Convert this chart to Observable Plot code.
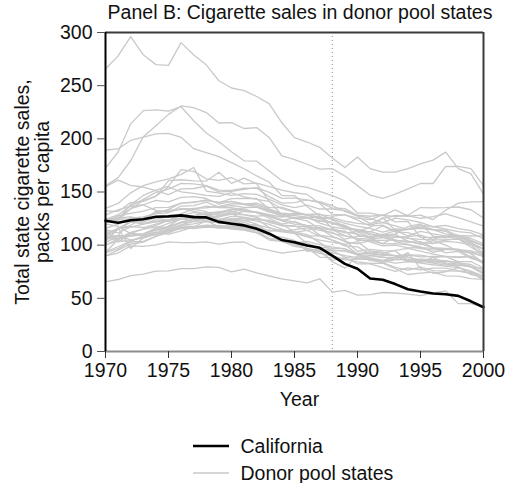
<!DOCTYPE html>
<html>
<head>
<meta charset="utf-8">
<script src="https://cdn.jsdelivr.net/npm/d3@7"></script>
<script src="https://cdn.jsdelivr.net/npm/@observablehq/plot@0.6"></script>
<style>
  body { margin: 0; background: #fff; }
  #wrap { width: 508px; font-family: "Liberation Sans", Arial, sans-serif; color: #111; }
  #title { height: 24px; line-height: 24px; font-size: 19.5px; text-align: center; padding-left: 92px; white-space: nowrap; }
  svg { display: block; }
</style>
</head>
<body>
<div id="wrap">
  <div id="title">Panel B: Cigarette sales in donor pool states</div>
  <div id="chart"></div>
  <div id="legend"></div>
</div>
<script>
// ---- data ----
const years = [1970,1971,1972,1973,1974,1975,1976,1977,1978,1979,1980,1981,1982,1983,1984,1985,1986,1987,1988,1989,1990,1991,1992,1993,1994,1995,1996,1997,1998,1999,2000];
const xTicks = [1970,1975,1980,1985,1990,1995,2000];
const yTicks = [0,50,100,150,200,250,300];
const treatmentYear = [1988];

const california = [123,121,123.5,124.4,126.7,127.1,128,126.4,126.1,121.9,120.2,118.6,115.4,110.8,104.8,102.8,99.7,97.5,90.1,82.4,77.8,68.7,67.5,63.4,58.6,56.4,54.5,53.8,52.3,47.2,41.6];

const alabama = [89.8,95.4,101.1,102.9,108.2,111.7,116.2,117.1,123,121.4,123.2,119.6,119.1,116.3,113,114.5,116.3,114,112.1,105.6,108.6,107.9,109.1,108.5,107.1,102.6,101.4,104.9,106.2,100.7,96.2];
const arkansas = [100.3,104.1,103.9,108,109.7,114.8,119.1,122.6,127.3,126.5,131.8,128.7,127.4,128,123.1,125.8,126,122.3,121.5,118.3,113.1,116.8,126,113.8,108.8,113,110.7,108.7,109.5,104.8,99.4];
const colorado = [124.8,125.5,134.3,137.9,132.8,131,134.2,132,129.2,131.5,131,133.8,130.5,125.3,119.7,112.4,109.9,102.4,94.6,88.8,87.4,90.2,88.3,88.6,89.1,85.4,83.1,81.3,81.2,79.6,73];
const connecticut = [120,117.6,110.8,109.3,112.4,110.2,113.4,117.3,117.5,117.4,118,116.4,114.7,114.1,112.5,111,108.5,109,104.8,100.6,91.5,86.7,83.5,79.1,76.6,79.3,76,75.9,75.5,73.4,71.4];
const delaware = [155,161.1,156.3,154.7,151.3,147.6,153,153.3,155.5,150.2,150.5,152.6,154.1,149.6,144,144.5,142.4,141,137.1,131.7,127.2,120.3,124.9,127.9,127.2,128.3,124.1,132.8,139.5,140.7,141];
const georgia = [109.9,115.7,117,119.8,123.7,122.9,125.9,127.9,130.6,131,134,131.7,131.2,128.6,126.3,128.8,129,129.3,124.1,117.1,113.8,109.6,109.8,110.1,103.6,101.1,104.3,100.1,94.3,93.6,89.2];
const idaho = [102.4,108.5,126.1,121.8,125.6,123.3,125.1,125,122.8,117.5,115.2,114.1,111.5,111.3,103.6,100.7,96.7,95,84.5,78.4,90.1,85.4,85.1,86.7,93,78.2,73.6,75,78.9,75.1,66.9];
const illinois = [124.8,125.6,126.6,124.4,131.9,131.8,134.4,134,136.7,135.3,135.2,133,130.7,127.9,124,121.6,118.2,109.5,107.6,104.6,94.1,96.1,94.8,94.6,85.7,83.9,88.5,82.3,79.8,72.2,70];
const indiana = [134.6,139.3,149.2,156,159.6,162.4,166.6,173,150.9,148.9,146.9,148.5,147.7,143,137.8,135.3,137.6,134,134,132.5,128.3,127.2,128.2,126.8,128.2,135.4,135.1,135.3,135.9,133.3,125.5];
const iowa = [108.5,108.4,109.4,110.6,116.1,120.5,124.4,125.5,127.1,124.2,124.6,123.2,119.8,110.6,104.7,103.5,101.5,98.2,97.2,96.5,91.4,92.6,91.3,90.2,90.8,88.9,89.4,89.4,89,89.2,82.8];
const kansas = [114,102.8,111,115.2,118.6,123.4,127.7,130.9,129,129.5,129.3,125,122.6,119.6,115.1,111.4,107.8,104.7,102.7,100.8,103.4,94.4,93.4,89.9,84.2,86.4,84.3,85.1,83.8,79.4,78.5];
const kentucky = [155.8,163.5,179.4,201.9,212.4,223,230.9,229.4,224.7,214.9,215.3,209.7,210.6,201.1,183.9,180.4,176.1,171.5,172,165,156,147,144,148,153,158,158,174,174,172,156];
const louisiana = [115.9,119.8,125.3,126.7,129.9,133.6,139.6,140,142.7,140.1,143.8,144,143.9,133.7,128.9,125,125.6,126.5,124.4,120.4,117.8,115.7,112.3,115.2,114.6,118.9,117.4,115.1,112.7,111.5,106.1];
const maine = [128.5,133.2,136.5,138,142.1,140.7,144.9,145.6,143.9,138.5,141.2,138.9,139.5,135.4,135.5,131.8,128.3,126.5,120.6,118.5,112.5,107.6,110.3,103.3,100.7,96.7,95.3,96.4,96.2,92,83.5];
const minnesota = [104.3,116.4,96.8,106.8,110.6,111.5,116.7,117.2,118.9,118.3,117.7,117.4,116.1,108.6,107.6,104.6,94.1,96.1,94.8,94.6,91.2,90.5,88.9,86.4,86.6,86.2,85.5,83.3,82.4,79.8,73.5];
const mississippi = [93.4,105.4,112.1,115,117.1,116.8,120.9,122.1,124.9,123.9,127,126.3,124.3,123.3,119.8,122.3,117.5,115.5,111.1,108.7,106.4,105.6,107.2,104.4,103.7,101.1,97.6,92.8,94.1,87.6,84.6];
const missouri = [121.3,127.6,130,132.1,135.4,135.6,139.5,140.8,141.8,140.2,141.2,138.1,138,134,130,129.2,128.8,128.7,127.4,128.6,123.6,118,118.8,113.1,114.8,116.9,114.7,114.1,108.6,103.9,99.5];
const montana = [111.2,115.6,122.2,119.9,121.9,123.7,124.9,127,127.2,120.3,122,121.7,116.9,110.6,103.5,101.5,96.1,93.9,85.7,88.1,82.5,82.5,78.8,75.3,78.6,76.7,78.5,78.4,76.1,74.2,68.1];
const nebraska = [108.1,108.6,104.9,106.6,110.5,114.1,118.1,117.7,117.4,116.1,116.3,114.4,111.6,106.3,104.9,100.4,99.6,96.6,95.6,94.4,91,88.2,85.6,88.3,90.8,90.6,88.6,89.2,84.5,84.6,78.5];
const nevada = [189.5,190.5,198.6,201.5,204.7,205.2,201.4,190.8,187,183.3,177.7,171.9,165.1,159.2,146.6,146.6,136.3,127.5,115.9,111.5,112.8,112.8,109.4,110.4,117.5,120,108.4,107.3,108.5,102.8,92.4];
const newHampshire = [265.7,278,296.2,279,269.8,269.1,290.5,278.8,269.6,254.6,247.8,245.4,239.8,232.9,215.1,201.1,197,192,182,173,183,172,168.7,168.7,172,176.5,180,187.5,172,167,148];
const newMexico = [90,92.6,99.3,98.9,100.3,103.1,102.4,102.4,103.1,101,102.7,103,97.5,95.2,92.5,94.1,95.6,92.4,89.7,87.2,84.2,82.9,83.1,77.8,72.4,73.7,74.7,71.2,70.9,68.5,67.8];
const northCarolina = [172.4,187.6,214.1,226.5,227.3,226,230.2,217,205.5,197.3,187.8,179.3,179,169.8,160.6,156.3,154.4,150.5,146.5,141.6,130.2,130.1,127.8,133.2,127.6,125.3,126.8,129.5,126,121.9,118];
const northDakota = [93.8,98.5,103.8,108.7,110.5,117.9,125.4,122.2,121.9,121.3,123.1,123,124.6,116.5,113.3,111.2,101.6,97.3,92.8,90.1,88.3,87.1,85.5,83.2,84.3,84.4,84.6,82.7,81.2,80.3,74.5];
const ohio = [121.6,124.6,124.4,120.5,122.1,122.5,124.6,127.3,129.4,128,129.3,131.8,130.6,126.8,122.8,119.7,118.7,118.2,114.4,113.2,104.4,104.8,104.6,104.9,102.6,103.4,97.7,96.9,95.9,94.6,91.6];
const oklahoma = [108.4,115.4,121.7,124.1,130.5,132.9,133.5,134.6,135.2,136.5,139,138.3,136.3,132,127.1,126.1,125.4,123,121.2,116.3,114.6,110.8,107.7,107.8,106.3,105.4,104.9,104.9,105.6,102.4,96.5];
const pennsylvania = [107.3,106.3,109,110.7,114.2,114.6,118.8,120.1,122.3,122.6,124.7,125.2,124.7,122.3,118.1,117.7,117.4,116.1,114.6,108.9,105.6,103.2,99.3,100,97.5,97.7,96.9,96.6,95.4,92.5,89.7];
const rhodeIsland = [123.9,123.2,134.4,142,146.1,154.7,150.2,148.8,146.8,145.8,149.3,145.5,143,141.1,134.3,131.1,128,125.1,120.3,117.1,109.8,106.8,101.2,101.4,100.2,98.5,93.2,95.8,95.9,88.6,83.5];
const southCarolina = [103.6,115,118.7,125.5,129.7,130.5,136.8,137.2,140.4,135.7,137.3,135.6,135.8,131.1,128.6,127.8,126.4,120.8,117.1,115.3,114.8,112.5,118,112.4,111.8,107.8,101.7,103.5,102.6,100.4,89.4];
const southDakota = [92.7,96.7,103,103.5,108.4,113.5,116.7,115.6,116.9,117.4,117.9,115.7,111.8,104.8,103.6,98.8,97.3,88.8,88.1,86.2,86.6,86.8,83.6,86.5,86.6,86.9,86.3,85.3,83.4,81.8,76.4];
const tennessee = [99.8,106.3,111.5,109.7,114.8,117.4,121.7,124.6,127.3,130.1,132.9,135.1,135.9,133.2,128.8,129.8,128.5,124.8,125.9,122.5,120.4,119.4,121.1,118.2,114.9,115.9,114.4,110.7,109.2,108.6,108.7];
const texas = [106.4,108.9,108.6,110.4,114.7,116,121.4,124.2,126.6,126.6,129.2,128.4,126.2,121.3,118.9,118.1,113.8,108.8,104.8,99.4,98.4,91.8,90.4,90.1,85.3,83.2,81.6,80.2,78.8,75.6,70.9];
const utah = [65.5,67.7,71.3,72.7,75.6,75.8,77.9,78,79.6,79.1,74.8,77.5,74,71,68.4,66.5,64.6,68.4,55.8,57.4,53,53.5,55.5,55,54,52.5,55,57,45,45,42];
const vermont = [122.6,124.4,138,146.8,151.8,155.5,171.1,169.4,162.4,160.9,163.6,157.6,158.4,155,151.7,149.3,147.7,139.1,128.9,128.4,125.4,124.1,128.4,121.9,122.4,107.4,107.3,106.8,108.6,106.5,101.3];
const virginia = [124.3,128.4,137,143.1,149.6,152.7,158.1,157.7,155.9,151.8,151.6,153.6,153.5,145.6,139.6,140,142.7,140.1,135.1,134.3,127.9,125.3,121.3,125.5,123.8,121.5,117.3,118.6,115.5,113.7,109.6];
const westVirginia = [114.5,111.5,117.5,116.6,119.9,123.2,129.7,133.9,131.6,122.1,122.3,119.4,118.7,113.1,114.6,112,113.9,116.5,114,112.2,110.5,106.5,109.8,113.4,115.3,118.5,114.8,113.1,106.9,104.3,99.2];
const wisconsin = [106.4,105.4,108.8,109.5,111.8,113.5,115.4,117.2,116.7,117.1,116.8,115.4,113.7,105.9,103.9,102,103.5,100.6,98.4,96.5,92.1,93.6,92.2,95.1,96.9,94.4,91.5,89.4,88.4,89.7,84.3];
const wyoming = [132.2,131.7,140,141.2,145.8,160.7,161.5,160.4,160.3,168.6,158.1,163.1,157.7,141.2,128.4,125.1,122.8,115.5,108.5,103.2,101.2,104.2,101.5,107.7,108,109.5,105.4,108.9,106,98.1,91.3];

const donors = {
  "Alabama": alabama, "Arkansas": arkansas, "Colorado": colorado, "Connecticut": connecticut,
  "Delaware": delaware, "Georgia": georgia, "Idaho": idaho, "Illinois": illinois, "Indiana": indiana,
  "Iowa": iowa, "Kansas": kansas, "Kentucky": kentucky, "Louisiana": louisiana, "Maine": maine,
  "Minnesota": minnesota, "Mississippi": mississippi, "Missouri": missouri, "Montana": montana,
  "Nebraska": nebraska, "Nevada": nevada, "New Hampshire": newHampshire, "New Mexico": newMexico,
  "North Carolina": northCarolina, "North Dakota": northDakota, "Ohio": ohio, "Oklahoma": oklahoma,
  "Pennsylvania": pennsylvania, "Rhode Island": rhodeIsland, "South Carolina": southCarolina,
  "South Dakota": southDakota, "Tennessee": tennessee, "Texas": texas, "Utah": utah, "Vermont": vermont,
  "Virginia": virginia, "West Virginia": westVirginia, "Wisconsin": wisconsin, "Wyoming": wyoming
};

// ---- build tables ----
const donorRows = [];
for (const [state, vals] of Object.entries(donors)) {
  vals.forEach((v, i) => donorRows.push({state, year: years[i], value: v}));
}
const caRows = california.map((v, i) => ({state: "California", year: years[i], value: v}));

const FONT = "Liberation Sans, Arial, sans-serif";
const chart = Plot.plot({
  width: 508,
  height: 391,
  marginTop: 8,
  marginLeft: 105,
  marginRight: 25,
  marginBottom: 64,
  style: {fontFamily: FONT, fontSize: "19.5px", color: "#111", background: "white", overflow: "visible"},
  x: {domain: [1970, 2000]},
  y: {domain: [0, 300]},
  marks: [
    Plot.ruleX(treatmentYear, {stroke: "#8a8a8a", strokeWidth: 1, strokeDasharray: "1,3"}),
    Plot.line(donorRows, {x: "year", y: "value", z: "state", stroke: "#c9c9c9", strokeWidth: 1.3}),
    Plot.line(caRows, {x: "year", y: "value", stroke: "#000", strokeWidth: 2.6}),
    Plot.ruleY([300], {stroke: "#3a3a3a", strokeWidth: 2}),
    Plot.ruleX([2000], {stroke: "#3a3a3a", strokeWidth: 2}),
    Plot.ruleY([0], {stroke: "#8c8c8c", strokeWidth: 2}),
    Plot.ruleX([1970], {stroke: "#000", strokeWidth: 2}),
    Plot.axisX({ticks: xTicks, tickFormat: d => String(d), tickSize: 7, tickPadding: 5, label: null, stroke: "#333"}),
    Plot.axisY({ticks: yTicks, tickSize: 8, tickPadding: 5, label: null, stroke: "#555"}),
    Plot.text(["Year"], {frameAnchor: "bottom", dy: 54, dx: 5, lineAnchor: "bottom", fontSize: 19.5, fill: "#111"}),
    Plot.text(["Total state cigarette sales,\npacks per capita"], {frameAnchor: "left", textAnchor: "middle", lineAnchor: "middle", rotate: -90, dx: -73, lineHeight: 1.03, fontSize: 19.5, fill: "#111"})
  ]
});
document.getElementById("chart").appendChild(chart);

// ---- legend ----
const legendItems = [
  {label: "California", color: "#000", width: 2.6},
  {label: "Donor pool states", color: "#c9c9c9", width: 1.3}
];
const lg = d3.select("#legend").append("svg").attr("width", 508).attr("height", 68)
  .style("font-family", FONT).style("font-size", "19.5px");
legendItems.forEach((d, i) => {
  const y = 31 + i * 27;
  lg.append("line").attr("x1", 193).attr("x2", 229).attr("y1", y).attr("y2", y)
    .attr("stroke", d.color).attr("stroke-width", d.width);
  lg.append("text").attr("x", 240.5).attr("y", y + 7).attr("fill", "#111").text(d.label);
});
</script>
</body>
</html>
